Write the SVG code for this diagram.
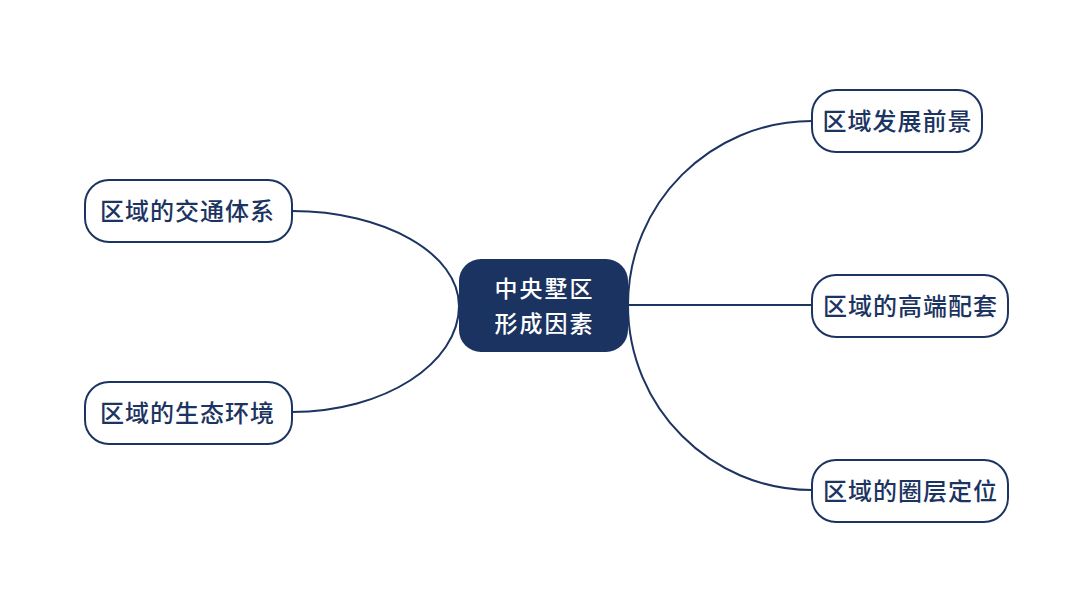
<svg xmlns="http://www.w3.org/2000/svg" width="1080" height="608" viewBox="0 0 1080 608">
  <style>
    .leaf rect { fill: #ffffff; stroke: #1c3461; stroke-width: 2; }
    .leaf text { fill: #1c3461; font-family: "Noto Sans CJK SC", "Noto Sans", sans-serif; font-size: 24px; font-weight: 500; letter-spacing: 1px; text-anchor: middle; }
    .center rect { fill: #1b3360; }
    .center text { fill: #ffffff; font-family: "Noto Sans CJK SC", "Noto Sans", sans-serif; font-size: 23px; font-weight: 500; letter-spacing: 2px; text-anchor: middle; }
    .conn path { fill: none; stroke: #1c3461; stroke-width: 2; }
  </style>
  <rect width="1080" height="608" fill="#ffffff"/>
  <g id="connectors" class="conn">
    <path d="M628,305 C628,203.4 710.4,121 812,121"/>
    <path d="M628,305 L812,305"/>
    <path d="M628,305 C628,407.2 710.4,490 812,490"/>
    <path d="M459,306 C459,253.5 384.2,211 292,211"/>
    <path d="M459,306 C459,363.4 384.2,412 292,412"/>
  </g>
  <g id="center" class="center">
    <rect x="459" y="259" width="169" height="93" rx="22" ry="22"/>
    <text x="544.5" y="297">中央墅区</text>
    <text x="544.5" y="332">形成因素</text>
  </g>
  <g id="node-qianjing" class="leaf">
    <rect x="812" y="90" width="170" height="62" rx="24" ry="24"/>
    <text x="897.5" y="130">区域发展前景</text>
  </g>
  <g id="node-peitao" class="leaf">
    <rect x="812" y="275" width="196" height="62" rx="24" ry="24"/>
    <text x="910.5" y="314.5">区域的高端配套</text>
  </g>
  <g id="node-dingwei" class="leaf">
    <rect x="812" y="460" width="196" height="62" rx="24" ry="24"/>
    <text x="910.5" y="499.5">区域的圈层定位</text>
  </g>
  <g id="node-jiaotong" class="leaf">
    <rect x="85" y="180" width="207" height="62" rx="24" ry="24"/>
    <text x="187.5" y="219.5">区域的交通体系</text>
  </g>
  <g id="node-shengtai" class="leaf">
    <rect x="85" y="382" width="207" height="62" rx="24" ry="24"/>
    <text x="187.5" y="421.5">区域的生态环境</text>
  </g>
</svg>
